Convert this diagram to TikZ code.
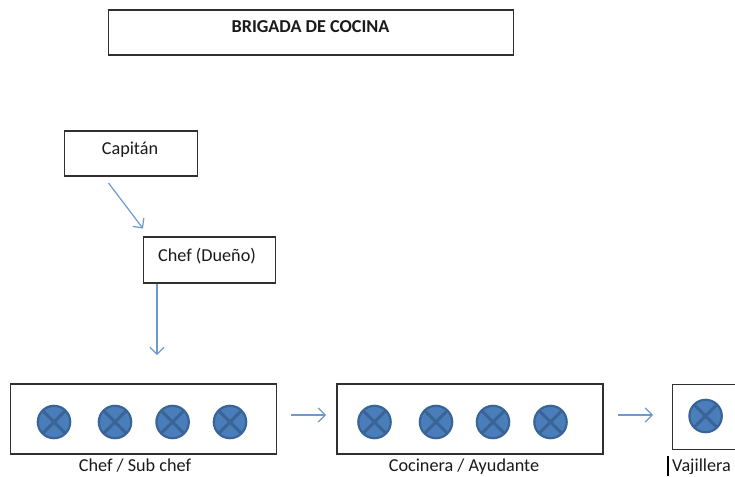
\documentclass[tikz,border=0pt]{standalone}
\usepackage{fontspec}
\setmainfont{Carlito}
\definecolor{arrowblue}{HTML}{6E9AD0}
\definecolor{discfill}{HTML}{4A7EBB}
\definecolor{discline}{HTML}{3A6496}
\definecolor{boxline}{HTML}{303030}
\definecolor{labeltext}{HTML}{1A1A1A}
\usetikzlibrary{arrows.meta}
\tikzset{
  boxnode/.style={draw=boxline,line width=1.05pt,fill=white,rectangle,inner sep=0pt},
  boxtext/.style={font=\fontsize{18.2}{20}\selectfont,text=labeltext,inner sep=0pt,anchor=base},
  link/.style={draw=arrowblue,line width=1.2pt,-{Straight Barb[length=7pt,width=14pt,line width=1.2pt]}},
  disc/.pic={
    \fill[discfill,draw=discline,line width=2.2pt] (0,0) circle (16.2);
    \draw[discline,line width=3pt] (-11.5,-11.5) -- (11.5,11.5) (-11.5,11.5) -- (11.5,-11.5);
  }
}
\begin{document}
\begin{tikzpicture}[x=1pt,y=-1pt]
\useasboundingbox (0,0) rectangle (735,476);
\clip (0,0) rectangle (735,476);
\fill[white] (0,0) rectangle (735,476);
\node[boxnode,minimum width=405pt,minimum height=45pt] (titlebox) at (311,32.5) {};
\node[boxtext,font=\fontsize{18.2}{20}\selectfont\bfseries] (titletext) at (310.5,32.3) {BRIGADA DE COCINA};
\node[boxnode,minimum width=133pt,minimum height=45pt] (capitan) at (131,153.5) {};
\node[boxtext] (capitantext) at (130,154) {Capitán};
\node[boxnode,minimum width=132pt,minimum height=46pt] (chef) at (209.3,260) {};
\node[boxtext] (cheftext) at (207,261) {Chef (Dueño)};
\node[boxnode,minimum width=266pt,minimum height=70pt] (teamA) at (143.5,419) {};
\node[boxnode,minimum width=266pt,minimum height=70pt] (teamB) at (470,419) {};
\node[boxnode,minimum width=100pt,minimum height=65pt,anchor=north west] (teamC) at (672,384) {};
\foreach \cx in {54,115,172.6,230} \pic at (\cx,422) {disc};
\foreach \cx in {374.5,436,493,550.5} \pic at (\cx,422) {disc};
\pic at (705.6,416) {disc};
\node[boxtext] (labelA) at (135,471.5) {Chef / Sub chef};
\node[boxtext] (labelB) at (464,471.5) {Cocinera / Ayudante};
\node[boxtext,anchor=base west] (labelC) at (672,471.5) {Vajillera};
\coordinate (capfrom) at (108.5,183);
\coordinate (capto) at (143,228.5);
\coordinate (chefto) at (157,355);
\coordinate (afrom) at (291,415);
\coordinate (ato) at (326,415);
\coordinate (bfrom) at (618,415);
\coordinate (bto) at (653,415);
\draw[link] (capfrom) -- (capto);
\draw[link] (chef.south -| chefto) -- (chefto);
\draw[link] (afrom) -- (ato);
\draw[link] (bfrom) -- (bto);
\coordinate (caretTop) at (668,456);
\coordinate (caretEnd) at (668,476);
\draw[black,line width=1.6pt] (caretTop) -- (caretEnd);
\end{tikzpicture}
\end{document}
